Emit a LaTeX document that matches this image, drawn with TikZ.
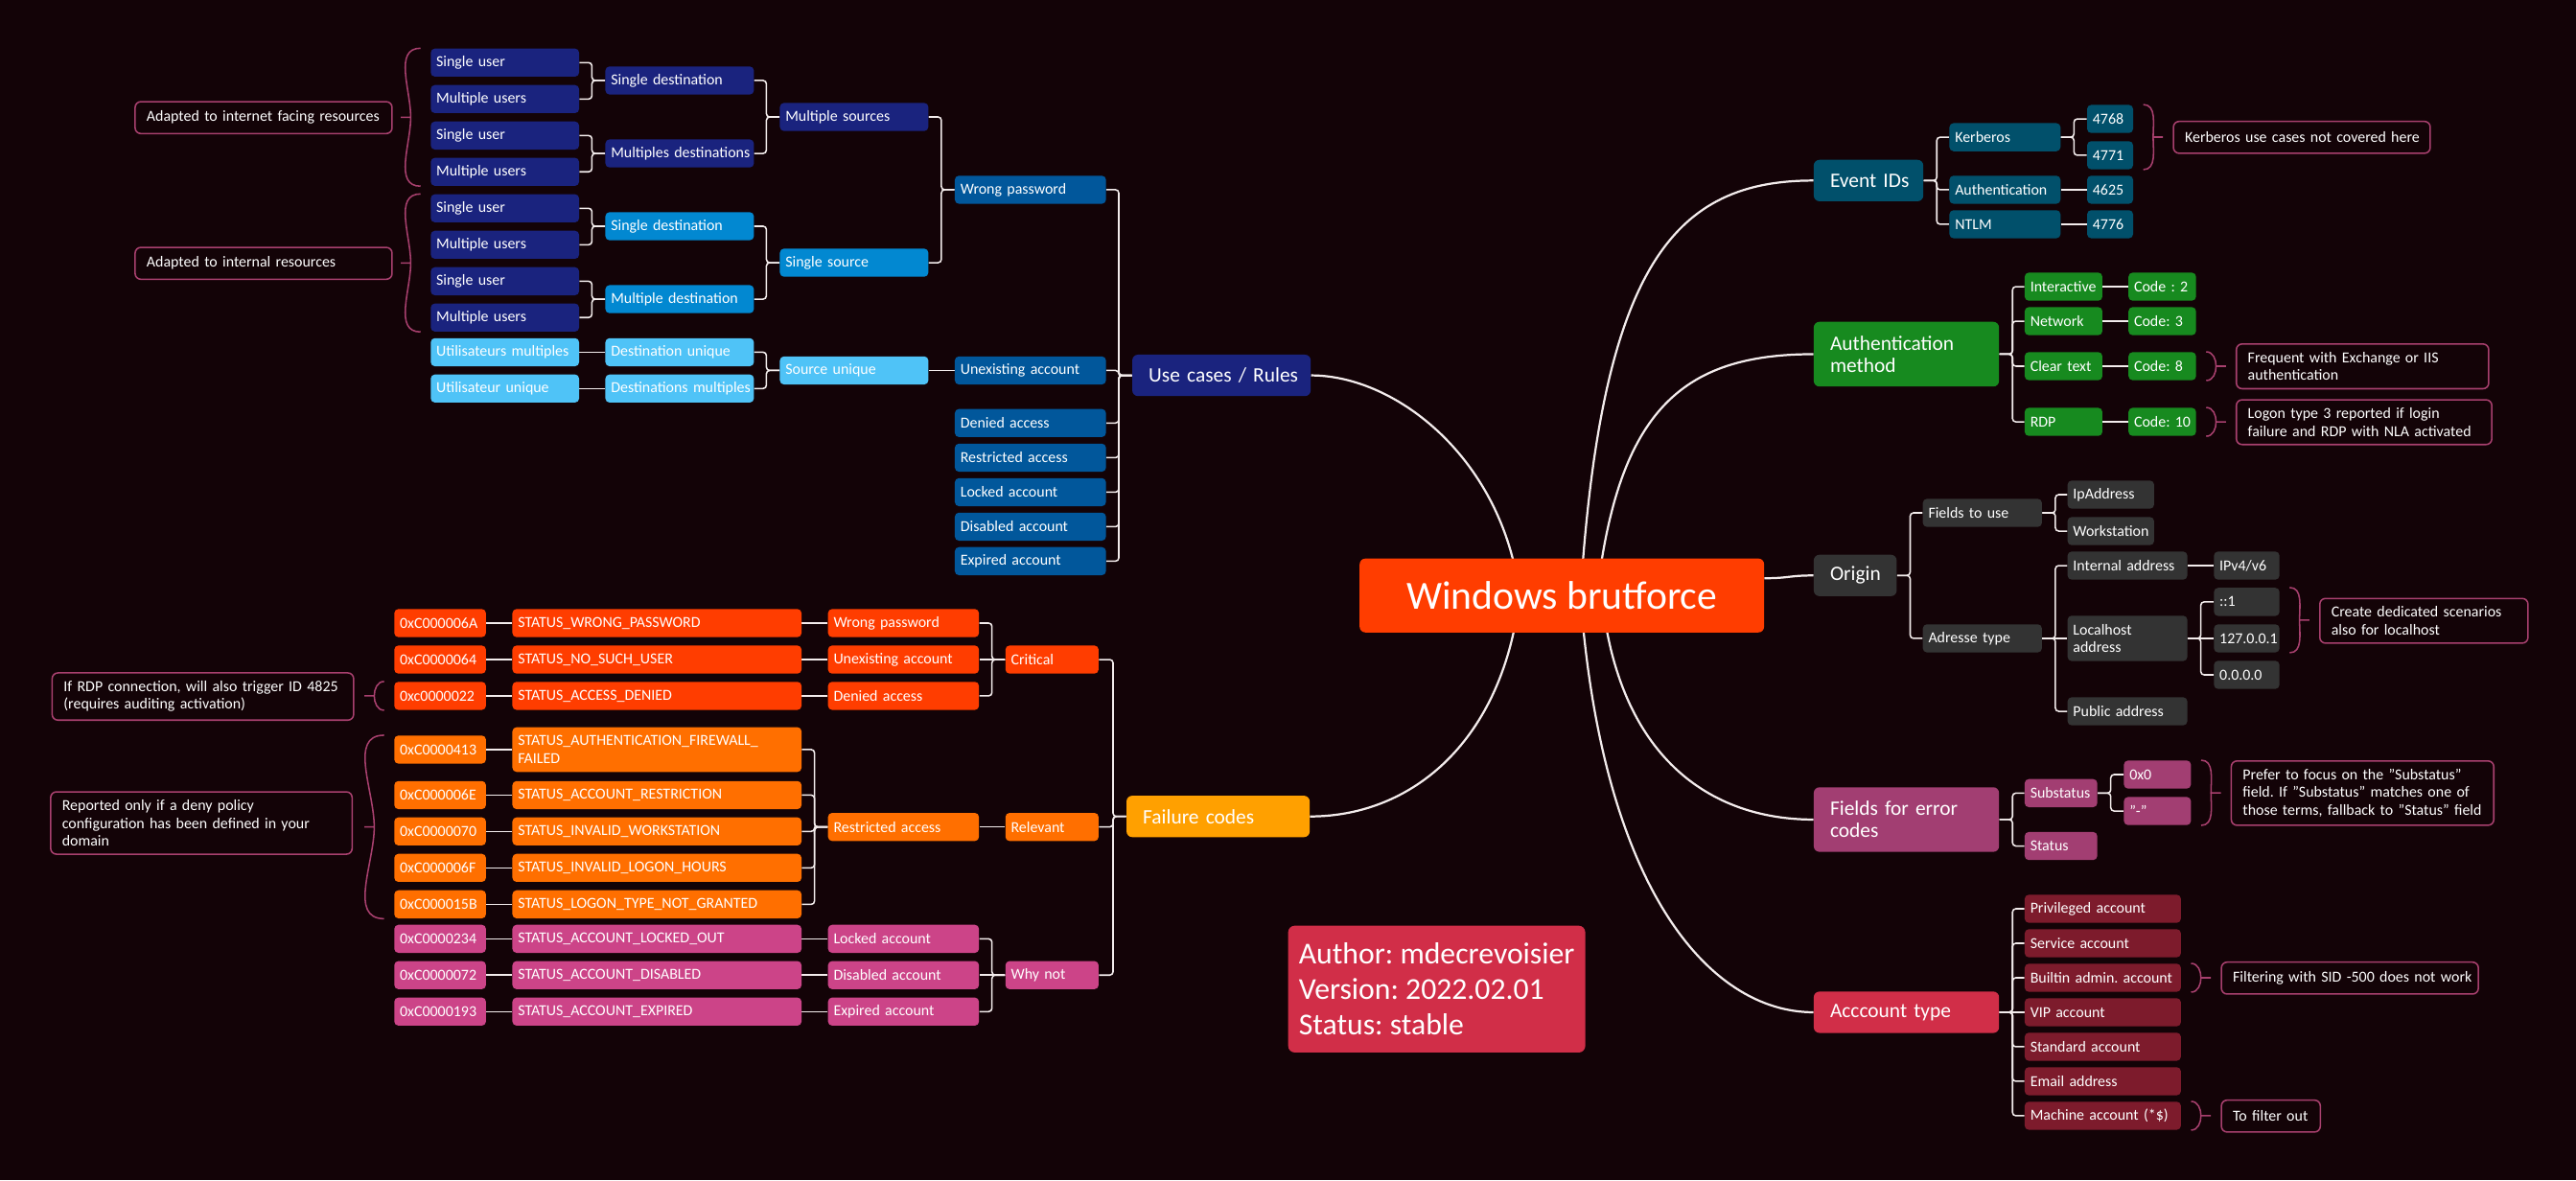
\documentclass[tikz,border=0pt]{standalone}
\usepackage{fontspec}
\setmainfont{Carlito}
\usetikzlibrary{calc}
\frenchspacing

\definecolor{bgdark}{HTML}{130307}
\definecolor{wire}{HTML}{F3ECEC}
\definecolor{navy}{HTML}{1A237E}
\definecolor{skyblue}{HTML}{0288D1}
\definecolor{paleblue}{HTML}{4FC3F7}
\definecolor{caseblue}{HTML}{01579B}
\definecolor{evtteal}{HTML}{01506B}
\definecolor{authgreen}{HTML}{178A1F}
\definecolor{origray}{HTML}{333333}
\definecolor{fieldpink}{HTML}{A23E72}
\definecolor{acctred}{HTML}{D12E48}
\definecolor{acctdark}{HTML}{7D1B2C}
\definecolor{failamber}{HTML}{FFA000}
\definecolor{critred}{HTML}{FF3D00}
\definecolor{relorange}{HTML}{FF6F00}
\definecolor{whypink}{HTML}{CC4488}
\definecolor{notepink}{HTML}{A8406E}

\pgfdeclarelayer{back}
\pgfdeclarelayer{wires}
\pgfsetlayers{back,wires,main}

\begin{document}
\begin{tikzpicture}[x=1pt,y=-1pt,
    box/.style={rounded corners=2.5pt, text=white, align=left, anchor=west},
    oneline/.style={execute at begin node=\hbox\bgroup, execute at end node=\egroup},
    cellx/.style={box, inner xsep=3.4pt, inner ysep=1pt, minimum height=17.1pt,
      text width={#1-6.8pt}, font=\fontsize{9.3}{10.7}\selectfont},
    cell/.style={cellx=#1, oneline},
    topicx/.style={box, rounded corners=3.5pt, inner xsep=10pt, inner ysep=2pt,
      minimum height=25.2pt, text width={#1-20pt}, font=\fontsize{12.5}{13.6}\selectfont},
    topic/.style={topicx=#1, oneline},
    note/.style={box, draw=notepink, line width=0.9pt, rounded corners=3.5pt, inner xsep=7pt,
      inner ysep=5pt, minimum height=19.4pt, text width={#1-14pt}, font=\fontsize{9.3}{10.7}\selectfont},
    link/.style={draw=wire, line width=0.9pt, rounded corners=2pt},
    branch/.style={draw=wire, line width=1.3pt},
    brace/.style={draw=notepink, line width=0.9pt}]
\useasboundingbox (0,0) rectangle (1568,718.35);
\begin{pgfonlayer}{back}
  \fill[bgdark] (0,0) rectangle (1568,718.35);
\end{pgfonlayer}

% root and info box
\node[fill=critred, rounded corners=3.5pt, minimum width=246.2pt, minimum height=45pt, text=white,
  font=\fontsize{24.3}{26}\selectfont] (root) at (950.7,362.5) {Windows brutforce};
\node[box, fill=acctred, rounded corners=4pt, inner xsep=6.5pt, minimum height=77.2pt,
  font=\fontsize{18.5}{21.5}\selectfont] (meta) at (783.9,602.1)
  {Author: mdecrevoisier\\Version: 2022.02.01\\Status: stable};

% use cases / rules
\node[topic=108.6, fill=navy] (uc) at (689,228.5) {Use cases / Rules};
\foreach \nm/\y/\txt in {wp/115.5/Wrong password, ua/225.5/Unexisting account, da/257.5/Denied access,
    ra/278.6/Restricted access, la/299.6/Locked account, dis/320.6/Disabled account, ea/341.6/Expired account}
  \node[cell=92, fill=caseblue] (\nm) at (581,\y) {\txt};
\node[cell=90.4, fill=navy] (s1) at (474.5,71.2) {Multiple sources};
\node[cell=90.4, fill=skyblue] (s2) at (474.5,159.9) {Single source};
\node[cell=90.4, fill=paleblue] (sf) at (474.5,225.5) {Source unique};
\foreach \nm/\y/\col/\txt in {d1/49/navy/Single destination, d2/93.4/navy/Multiples destinations,
    d3/137.7/skyblue/Single destination, d4/182.1/skyblue/Multiple destination,
    df1/214.4/paleblue/Destination unique, df2/236.5/paleblue/Destinations multiples}
  \node[cell=90.4, fill=\col] (\nm) at (368.3,\y) {\txt};
\foreach \i/\y/\txt in {1/38.1/Single user, 2/60.3/Multiple users, 3/82.5/Single user, 4/104.6/Multiple users,
    5/126.8/Single user, 6/149.0/Multiple users, 7/171.2/Single user, 8/193.3/Multiple users}
  \node[cell=90.3, fill=navy] (u\i) at (262,\y) {\txt};
\node[cell=90.3, fill=paleblue] (uf1) at (262,214.4) {Utilisateurs multiples};
\node[cell=90.3, fill=paleblue] (uf2) at (262,236.5) {Utilisateur unique};

% failure codes
\node[topic=111.5, fill=failamber] (fc) at (685.5,497) {Failure codes};
\node[cell=56.7, fill=critred] (g1) at (611.8,401.5) {Critical};
\node[cell=56.7, fill=relorange] (g2) at (611.8,503.4) {Relevant};
\node[cell=56.7, fill=whypink] (g3) at (611.8,593.6) {Why not};
\foreach \i/\y/\col/\txt in {1/379.3/critred/Wrong password, 2/401.5/critred/Unexisting account,
    3/423.6/critred/Denied access, 4/503.4/relorange/Restricted access, 9/571.5/whypink/Locked account,
    10/593.6/whypink/Disabled account, 11/615.8/whypink/Expired account}
  \node[cell=91.9, fill=\col] (k\i) at (503.8,\y) {\txt};
\foreach \i/\y/\col/\st in {1/379.3/critred/STATUS\_WRONG\_PASSWORD, 2/401.5/critred/STATUS\_NO\_SUCH\_USER,
    3/423.6/critred/STATUS\_ACCESS\_DENIED, 5/484/relorange/STATUS\_ACCOUNT\_RESTRICTION,
    6/506.1/relorange/STATUS\_INVALID\_WORKSTATION, 7/528.3/relorange/STATUS\_INVALID\_LOGON\_HOURS,
    8/550.5/relorange/STATUS\_LOGON\_TYPE\_NOT\_GRANTED, 9/571.5/whypink/STATUS\_ACCOUNT\_LOCKED\_OUT,
    10/593.6/whypink/STATUS\_ACCOUNT\_DISABLED, 11/615.8/whypink/STATUS\_ACCOUNT\_EXPIRED}
  \node[cell=176, fill=\col] (t\i) at (311.7,\y) {\st};
\node[cellx=176, fill=relorange, minimum height=27.2pt] (t4) at (311.7,456.3)
  {STATUS\_AUTHENTICATION\_FIREWALL\_\\FAILED};
\foreach \i/\y/\col/\cd in {1/379.3/critred/0xC000006A, 2/401.5/critred/0xC0000064, 3/423.6/critred/0xc0000022,
    4/456.3/relorange/0xC0000413, 5/484/relorange/0xC000006E, 6/506.1/relorange/0xC0000070,
    7/528.3/relorange/0xC000006F, 8/550.5/relorange/0xC000015B, 9/571.5/whypink/0xC0000234,
    10/593.6/whypink/0xC0000072, 11/615.8/whypink/0xC0000193}
  \node[cell=55.8, fill=\col] (c\i) at (239.8,\y) {\cd};

% event IDs
\node[topic=66.7, fill=evtteal] (evt) at (1103.8,109.9) {Event IDs};
\foreach \nm/\y/\txt in {kerb/83.5/Kerberos, authn/115.5/Authentication, ntlm/136.5/NTLM}
  \node[cell=67.6, fill=evtteal] (\nm) at (1186.4,\y) {\txt};
\foreach \nm/\y in {4768/72.4, 4771/94.5, 4625/115.5, 4776/136.5}
  \node[cell=28, fill=evtteal] (e\nm) at (1270.2,\y) {\nm};

% authentication method
\node[topicx=112.8, fill=authgreen, minimum height=39.4pt] (am) at (1103.8,215.6) {Authentication\\method};
\foreach \nm/\y/\txt/\cd in {inter/174.5/Interactive/Code : 2, netw/195.5/Network/Code: 3,
    clr/222.9/Clear text/Code: 8, rdp/256.8/RDP/Code: 10} {
  \node[cell=47.3, fill=authgreen] (\nm) at (1232.2,\y) {\txt};
  \node[cell=41.1, fill=authgreen] (c\nm) at (1295.4,\y) {\cd};
}

% origin
\node[topic=50.5, fill=origray] (orig) at (1103.8,350.3) {Origin};
\node[cell=72.5, fill=origray] (ftu) at (1170.2,312.2) {Fields to use};
\node[cell=72.5, fill=origray] (adt) at (1170.2,388.6) {Adresse type};
\node[cell=52.7, fill=origray] (ipa) at (1258.3,301.1) {IpAddress};
\node[cell=52.7, fill=origray] (wks) at (1258.3,323.3) {Workstation};
\node[cell=72.9, fill=origray] (ina) at (1258.3,344.3) {Internal address};
\node[cellx=72.9, fill=origray, minimum height=27.6pt] (lha) at (1258.3,388.6) {Localhost\\address};
\node[cell=72.9, fill=origray] (pba) at (1258.3,433) {Public address};
\node[cell=39.9, fill=origray] (ipv) at (1347.4,344.3) {IPv4/v6};
\foreach \nm/\y/\txt in {lo1/366.4/::1, lo2/388.6/127.0.0.1, lo3/410.8/0.0.0.0}
  \node[cell=39.9, fill=origray] (\nm) at (1347.4,\y) {\txt};

% fields for error codes
\node[topicx=112.8, fill=fieldpink, minimum height=39.3pt] (fec) at (1103.8,498.9) {Fields for error\\codes};
\node[cell=44.2, fill=fieldpink] (sub) at (1232.2,482.8) {Substatus};
\node[cell=44.2, fill=fieldpink] (sts) at (1232.2,515) {Status};
\node[cell=40.8, fill=fieldpink] (z0) at (1292.6,471.5) {0x0};
\node[cell=40.8, fill=fieldpink] (zd) at (1292.6,493.7) {"-"};

% account type
\node[topic=112.8, fill=acctred] (act) at (1103.8,616.2) {Acccount type};
\foreach \i/\txt in {1/Privileged account, 2/Service account, 3/Builtin admin. account, 4/VIP account,
    5/Standard account, 6/Email address, 7/Machine account (*\$)}
  \node[cell=95.1, fill=acctdark] (a\i) at (1232.2,{553.2+21*(\i-1)}) {\txt};

% notes
\node[note=156.4, oneline] (n1) at (81.8,71.6) {Adapted to internet facing resources};
\node[note=156.4, oneline] (n2) at (81.8,160.3) {Adapted to internal resources};
\node[note=183.5] (n3) at (31.3,424) {If RDP connection, will also trigger ID 4825\\(requires auditing activation)};
\node[note=183.5] (n4) at (30.4,501) {Reported only if a deny policy\\configuration has been defined in your\\domain};
\node[note=156.3, oneline] (n5) at (1322.5,83.6) {Kerberos use cases not covered here};
\node[note=153.6] (n6) at (1360.8,223) {Frequent with Exchange or IIS\\authentication};
\node[note=155.5] (n7) at (1360.8,257) {Logon type 3 reported if login\\failure and RDP with NLA activated};
\node[note=126.7] (n8) at (1411.6,377.9) {Create dedicated scenarios\\also for localhost};
\node[note=159.8] (n9) at (1357.7,482.8) {Prefer to focus on the "Substatus"\\field. If "Substatus" matches one of\\those terms, fallback to "Status" field};
\node[note=156.4, oneline] (n10) at (1351.7,595.4) {Filtering with SID -500 does not work};
\node[note=60.2, oneline] (n11) at (1351.7,679.4) {To filter out};

\begin{pgfonlayer}{wires}
  % main branches
  \draw[branch] ([xshift=-25.7pt]root.center) .. controls +(-10,-82.5) and +(52.4,0) .. (uc.east);
  \draw[branch] ([xshift=-25.7pt]root.center) .. controls +(-10,87.5) and +(63,0) .. (fc.east);
  \draw[branch] ([xshift=11.3pt]root.center) .. controls +(13,-202.5) and +(-83.8,0) .. (evt.west);
  \draw[branch] ([xshift=21.3pt]root.center) .. controls +(13,-112.5) and +(-80,0) .. (am.west);
  \draw[branch] ($(root.east)+(0,-10.5)$) .. controls +(15,0) and +(-15,0) .. (orig.west);
  \draw[branch] ([xshift=24.3pt]root.center) .. controls +(10,97.5) and +(-63.8,0) .. (fec.west);
  \draw[branch] ([xshift=11.3pt]root.center) .. controls +(13,177.5) and +(-63.8,0) .. (act.west);
  % left trees: bus links, then straight ones
  \foreach \p/\kid in {d1/u1, d1/u2, d2/u3, d2/u4, d3/u5, d3/u6, d4/u7, d4/u8,
      s1/d1, s1/d2, s2/d3, s2/d4, sf/df1, sf/df2, wp/s1, wp/s2,
      uc/wp, uc/ua, uc/da, uc/ra, uc/la, uc/dis, uc/ea,
      k4/t4, k4/t5, k4/t6, k4/t7, k4/t8, g1/k1, g1/k3, g3/k9, g3/k11, fc/g1, fc/g2, fc/g3}
    \draw[link] (\p.west) -- ++(-8,0) |- (\kid.east);
  \foreach \p/\kid in {df1/uf1, df2/uf2, ua/sf, k1/t1, k2/t2, k3/t3, k9/t9, k10/t10, k11/t11,
      g1/k2, g2/k4, g3/k10}
    \draw[link] (\p.west) -- (\kid.east);
  \foreach \i in {1,...,11}
    \draw[link] (t\i.west) -- (c\i.east);
  % right trees
  \foreach \p/\kid in {evt/kerb, evt/authn, evt/ntlm, kerb/e4768, kerb/e4771,
      am/inter, am/netw, am/clr, am/rdp, orig/ftu, orig/adt, ftu/ipa, ftu/wks, adt/ina, adt/pba,
      lha/lo1, lha/lo3, fec/sub, fec/sts, sub/z0, sub/zd,
      act/a1, act/a2, act/a3, act/a5, act/a6, act/a7}
    \draw[link] (\p.east) -- ++(8,0) |- (\kid.west);
  \foreach \p/\kid in {authn/e4625, ntlm/e4776, inter/cinter, netw/cnetw, clr/cclr, rdp/crdp,
      ina/ipv, adt/lha, lha/lo2, act/a4}
    \draw[link] (\p.east) -- (\kid.west);
  % braces towards the notes
  \foreach \tp/\bt in {u1/u4, u5/u8, c3/c3, c4/c8}
    \draw[brace] ($(\tp.north west)+(-6,0)$) to[out=180,in=90] ($(\tp.north west)!.5!(\bt.south west)+(-12,0)$)
      to[out=-90,in=180] ($(\bt.south west)+(-6,0)$)
      ($(\tp.north west)!.5!(\bt.south west)+(-12,0)$) -- ++(-6,0);
  \foreach \tp/\bt in {e4768/e4771, cclr/cclr, crdp/crdp, lo1/lo2, z0/zd, a3/a3, a7/a7}
    \draw[brace] ($(\tp.north east)+(6,0)$) to[out=0,in=90] ($(\tp.north east)!.5!(\bt.south east)+(12,0)$)
      to[out=-90,in=0] ($(\bt.south east)+(6,0)$)
      ($(\tp.north east)!.5!(\bt.south east)+(12,0)$) -- ++(6,0);
\end{pgfonlayer}
\end{tikzpicture}
\end{document}
